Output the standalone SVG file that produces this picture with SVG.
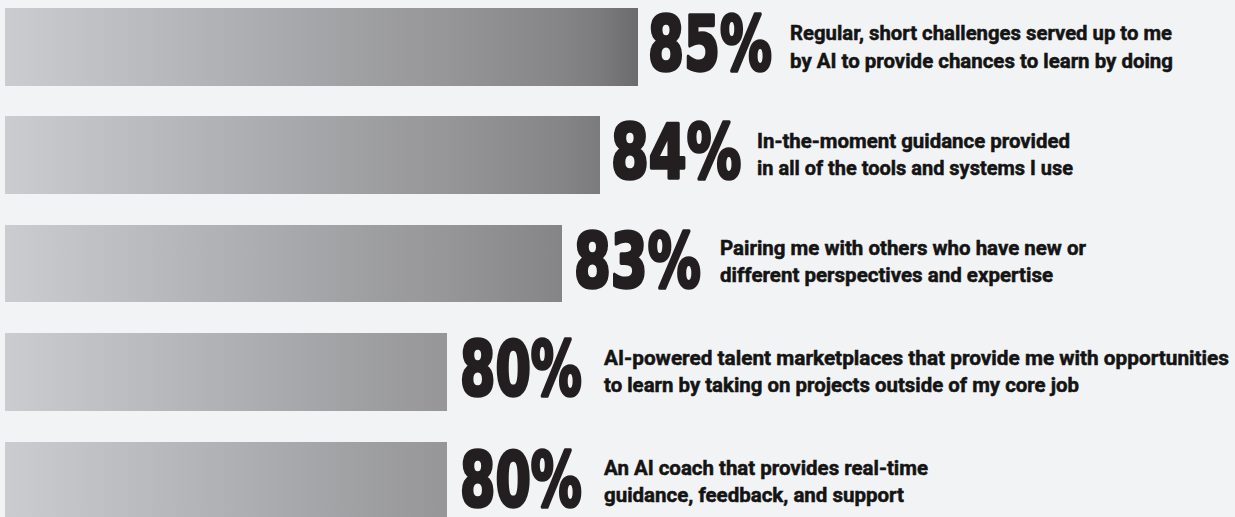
<svg xmlns="http://www.w3.org/2000/svg" width="1235" height="517" viewBox="0 0 1235 517">
<style>
.pct{font-family:"DejaVu Sans","Liberation Sans",sans-serif;font-weight:700;font-size:74px;fill:#231f20;stroke:#231f20;stroke-width:3.6;stroke-linejoin:round}
.lbl{font-family:"Roboto","Liberation Sans",sans-serif;font-weight:700;font-size:20px;fill:#141414;stroke:#141414;stroke-width:0.5}
.bar{fill:url(#g)}
</style>
<defs>
<linearGradient id="g" gradientUnits="userSpaceOnUse" x1="5" y1="0" x2="638" y2="0">
<stop offset="0" stop-color="#cbccd0"/>
<stop offset="0.434" stop-color="#a9aaad"/>
<stop offset="0.698" stop-color="#969698"/>
<stop offset="0.88" stop-color="#858587"/>
<stop offset="0.94" stop-color="#7b7b7d"/>
<stop offset="1" stop-color="#6b6a6c"/>
</linearGradient>
</defs>
<rect width="1235" height="517" fill="#f2f3f5"/>
<g id="row1">
<rect class="bar" x="5" y="8" width="633" height="78"/>
<text class="pct" transform="translate(648,70) scale(0.7,1)" x="0" y="0" textLength="177" lengthAdjust="spacingAndGlyphs">85%</text>
<text class="lbl" x="790" y="40" textLength="382" lengthAdjust="spacingAndGlyphs">Regular, short challenges served up to me</text>
<text class="lbl" x="790" y="68" textLength="383" lengthAdjust="spacingAndGlyphs">by AI to provide chances to learn by doing</text>
</g>
<g id="row2">
<rect class="bar" x="5" y="116" width="595" height="78"/>
<text class="pct" transform="translate(611,178) scale(0.7,1)" x="0" y="0" textLength="186" lengthAdjust="spacingAndGlyphs">84%</text>
<text class="lbl" x="757" y="148" textLength="313" lengthAdjust="spacingAndGlyphs">In-the-moment guidance provided</text>
<text class="lbl" x="757" y="175" textLength="316" lengthAdjust="spacingAndGlyphs">in all of the tools and systems I use</text>
</g>
<g id="row3">
<rect class="bar" x="5" y="225" width="557" height="77"/>
<text class="pct" transform="translate(574,287) scale(0.7,1)" x="0" y="0" textLength="181" lengthAdjust="spacingAndGlyphs">83%</text>
<text class="lbl" x="720" y="255" textLength="366" lengthAdjust="spacingAndGlyphs">Pairing me with others who have new or</text>
<text class="lbl" x="720" y="282" textLength="333" lengthAdjust="spacingAndGlyphs">different perspectives and expertise</text>
</g>
<g id="row4">
<rect class="bar" x="5" y="333" width="442" height="78"/>
<text class="pct" transform="translate(460,395) scale(0.7,1)" x="0" y="0" textLength="174" lengthAdjust="spacingAndGlyphs">80%</text>
<text class="lbl" x="604" y="365" textLength="625" lengthAdjust="spacingAndGlyphs">AI-powered talent marketplaces that provide me with opportunities</text>
<text class="lbl" x="604" y="392" textLength="475" lengthAdjust="spacingAndGlyphs">to learn by taking on projects outside of my core job</text>
</g>
<g id="row5">
<rect class="bar" x="5" y="442" width="442" height="75"/>
<text class="pct" transform="translate(460,506) scale(0.7,1)" x="0" y="0" textLength="174" lengthAdjust="spacingAndGlyphs">80%</text>
<text class="lbl" x="604" y="475" textLength="324" lengthAdjust="spacingAndGlyphs">An AI coach that provides real-time</text>
<text class="lbl" x="604" y="502" textLength="300" lengthAdjust="spacingAndGlyphs">guidance, feedback, and support</text>
</g>
<g id="connectors"/>
</svg>
